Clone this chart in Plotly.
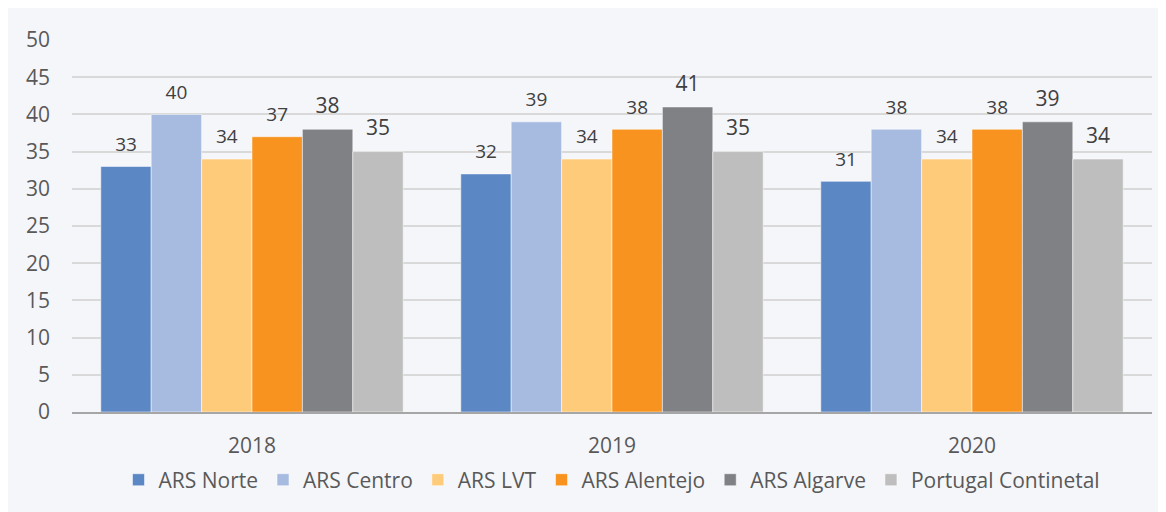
import plotly.graph_objects as go

years = ["2018", "2019", "2020"]
series_names = ["ARS Norte", "ARS Centro", "ARS LVT", "ARS Alentejo", "ARS Algarve", "Portugal Continetal"]
norte = [33, 32, 31]
centro = [40, 39, 38]
lvt = [34, 34, 34]
alentejo = [37, 38, 38]
algarve = [38, 41, 39]
portugal = [35, 35, 34]
values = [norte, centro, lvt, alentejo, algarve, portugal]
colors = ["#5b87c5", "#a7bbe1", "#fecb7b", "#f7931e", "#808184", "#bebebe"]
label_sizes = [19, 19, 19, 19, 21, 21]

fig = go.Figure()
for i, (name, vals, col) in enumerate(zip(series_names, values, colors)):
    fig.add_trace(go.Bar(
        x=years, y=vals, name=name, offsetgroup=str(i),
        marker=dict(color=col, line=dict(width=1, color="rgba(255,255,255,0.5)")),
        hoverinfo="skip",
    ))
for i, (name, vals) in enumerate(zip(series_names, values)):
    fig.add_trace(go.Scatter(
        x=years, y=vals, offsetgroup=str(i), mode="markers+text",
        text=[str(v) for v in vals], textposition="top center",
        textfont=dict(family="Open Sans", size=label_sizes[i], color="#404040"),
        marker=dict(size=16, opacity=0),
        showlegend=False, hoverinfo="skip", cliponaxis=False,
    ))

fig.update_layout(
    width=1158, height=504,
    margin=dict(l=64, r=14, t=32, b=100),
    barmode="group", bargap=0.16, bargroupgap=0,
    scattermode="group", scattergap=0.16,
    paper_bgcolor="#f5f6fa", plot_bgcolor="#f5f6fa",
    font=dict(family="Open Sans", color="#595959", size=21),
    showlegend=True,
    legend=dict(orientation="h", x=0.5, xanchor="center", y=-0.183, yanchor="middle",
                bgcolor="rgba(0,0,0,0)",
                font=dict(size=21, color="#595959"), itemwidth=30, traceorder="normal"),
)
fig.update_xaxes(showline=True, linecolor="#a6a6a6", linewidth=2, showgrid=False,
                 ticks="", ticklabelstandoff=14, tickfont=dict(size=21, color="#595959"))
fig.update_yaxes(range=[0, 50], dtick=5, showgrid=True, gridcolor="#d9d9d9", gridwidth=1.5,
                 zeroline=False, ticks="", ticklabelstandoff=21,
                 tickfont=dict(size=21, color="#595959"))

fig.write_html("out.html")
